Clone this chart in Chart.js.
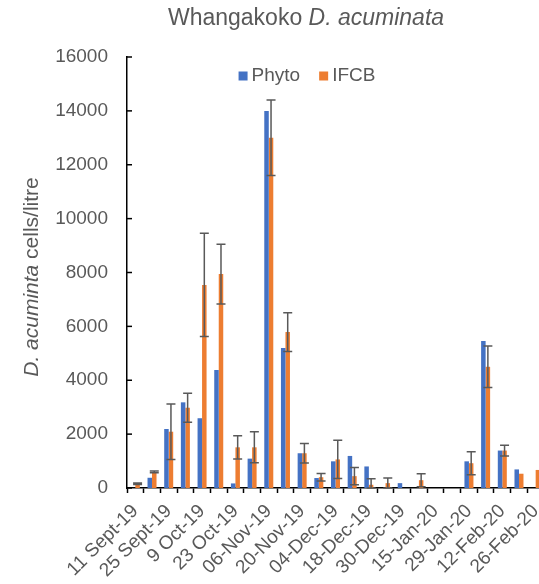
<!DOCTYPE html>
<html lang="en">
<head>
    <meta charset="UTF-8">
    <title>Whangakoko D. acuminata</title>
    <script src="https://cdn.jsdelivr.net/npm/chart.js"></script>
    <style>
        body {
            margin: 0;
            padding: 0;
            background: #ffffff;
            overflow: hidden;
        }
        canvas {
            display: block;
        }
    </style>
</head>
<body>
    <canvas id="chart" width="545" height="584"></canvas>

    <script>
        // Sampling dates (every other week is labelled in the original)
        const dates = [
            "11 Sept-19", "", "25 Sept-19", "", "9 Oct-19", "", "23 Oct-19", "",
            "06-Nov-19", "", "20-Nov-19", "", "04-Dec-19", "", "18-Dec-19", "",
            "30-Dec-19", "", "15-Jan-20", "", "29-Jan-20", "", "12-Feb-20", "", "26-Feb-20"
        ];

        // D. acuminata cells/litre
        const phyto = [0, 380, 2190, 3180, 2590, 4380, 170, 1090, 14000, 5200, 1290, 370, 990,
                       1190, 800, 0, 180, 0, 0, 0, 990, 5460, 1390, 690, 0];
        const ifcb = [160, 600, 2090, 2980, 7540, 7940, 1510, 1510, 13000, 5790, 1290, 400, 1060,
                      440, 120, 180, 0, 290, 0, 0, 920, 4500, 1390, 530, 670];
        // +/- error on the IFCB counts
        const ifcbErr = [30, 30, 1030, 540, 1920, 1110, 430, 575, 1400, 720, 360, 140, 710,
                         320, 220, 190, 0, 240, 0, 0, 430, 770, 200, 0, 0];

        const FONT = 'Arial, "Liberation Sans", sans-serif';
        const TEXT = '#595959';

        // title, axis title, legend, error bars and inner y ticks
        const extras = {
            id: 'extras',
            afterDatasetsDraw(chart) {
                const ctx = chart.ctx;
                const y = chart.scales.y;
                const area = chart.chartArea;

                // error bars on the IFCB bars
                const meta = chart.getDatasetMeta(1);
                ctx.save();
                ctx.strokeStyle = '#595959';
                ctx.lineWidth = 1.5;
                ifcbErr.forEach((e, i) => {
                    if (!e) return;
                    const x = meta.data[i].x;
                    const top = y.getPixelForValue(ifcb[i] + e);
                    const bot = y.getPixelForValue(Math.max(ifcb[i] - e, 0));
                    ctx.beginPath();
                    ctx.moveTo(x, top); ctx.lineTo(x, bot);
                    ctx.moveTo(x - 4.5, top); ctx.lineTo(x + 4.5, top);
                    ctx.moveTo(x - 4.5, bot); ctx.lineTo(x + 4.5, bot);
                    ctx.stroke();
                });

                // y tick marks point into the plot
                ctx.strokeStyle = '#000000';
                y.ticks.forEach(t => {
                    const py = y.getPixelForValue(t.value);
                    ctx.beginPath();
                    ctx.moveTo(area.left, py);
                    ctx.lineTo(area.left + 5, py);
                    ctx.stroke();
                });
                ctx.restore();
            },
            afterDraw(chart) {
                const ctx = chart.ctx;
                ctx.save();
                ctx.fillStyle = TEXT;
                ctx.textBaseline = 'middle';

                // chart title: plain + italic
                const t1 = 'Whangakoko ';
                const t2 = 'D. acuminata';
                ctx.font = '23px ' + FONT;
                const w1 = ctx.measureText(t1).width;
                ctx.font = 'italic 23px ' + FONT;
                const w2 = ctx.measureText(t2).width;
                let tx = 306 - (w1 + w2) / 2;
                ctx.textAlign = 'left';
                ctx.font = '23px ' + FONT;
                ctx.fillText(t1, tx, 19);
                ctx.font = 'italic 23px ' + FONT;
                ctx.fillText(t2, tx + w1, 19);

                // y axis title, rotated
                const a1 = 'D. acuminta';
                const a2 = ' cells/litre';
                ctx.font = 'italic 21px ' + FONT;
                const aw1 = ctx.measureText(a1).width;
                ctx.font = '21px ' + FONT;
                const aw2 = ctx.measureText(a2).width;
                ctx.translate(32, 277);
                ctx.rotate(-Math.PI / 2);
                const ax = -(aw1 + aw2) / 2;
                ctx.font = 'italic 21px ' + FONT;
                ctx.fillText(a1, ax, 0);
                ctx.font = '21px ' + FONT;
                ctx.fillText(a2, ax + aw1, 0);
                ctx.setTransform(1, 0, 0, 1, 0, 0);

                // legend inside the plot area
                ctx.font = '19px ' + FONT;
                const items = chart.data.datasets;
                const box = 9;
                const gap = 4;
                const spacing = 19;
                const widths = items.map(d => box + gap + ctx.measureText(d.label).width);
                const total = widths.reduce((s, w) => s + w, 0) + spacing * (items.length - 1);
                let lx = 307 - total / 2;
                const ly = 76;
                items.forEach((d, i) => {
                    ctx.fillStyle = d.backgroundColor;
                    ctx.fillRect(lx, ly - box / 2, box, box);
                    ctx.fillStyle = TEXT;
                    ctx.fillText(d.label, lx + box + gap, ly);
                    lx += widths[i] + spacing;
                });
                ctx.restore();
            }
        };

        const ctx = document.getElementById('chart').getContext('2d');
        new Chart(ctx, {
            type: 'bar',
            data: {
                labels: dates,
                datasets: [
                    { label: 'Phyto', data: phyto, backgroundColor: '#4472C4' },
                    { label: 'IFCB', data: ifcb, backgroundColor: '#ED7D31' }
                ]
            },
            options: {
                responsive: false,
                devicePixelRatio: 1,
                animation: false,
                categoryPercentage: 0.54,
                barPercentage: 1.0,
                layout: {
                    padding: { top: 57, left: 55, right: 1, bottom: 0 }
                },
                plugins: {
                    legend: { display: false },
                    title: { display: false },
                    tooltip: { enabled: false }
                },
                scales: {
                    x: {
                        grid: {
                            display: true,
                            drawOnChartArea: false,
                            tickLength: 5,
                            tickColor: '#000000',
                            tickWidth: 1.5
                        },
                        border: { color: '#000000', width: 1.5 },
                        ticks: {
                            autoSkip: false,
                            maxRotation: 45,
                            minRotation: 45,
                            color: TEXT,
                            padding: 7,
                            font: { family: FONT, size: 19 }
                        },
                        afterFit(scale) {
                            scale.height = 96;
                            scale.paddingLeft = 0;
                            scale.paddingRight = 0;
                        }
                    },
                    y: {
                        min: 0,
                        max: 16000,
                        grid: { display: false, drawTicks: false },
                        border: { color: '#000000', width: 1.5 },
                        ticks: {
                            stepSize: 2000,
                            color: TEXT,
                            padding: 19,
                            font: { family: FONT, size: 19 },
                            callback: v => String(v)
                        },
                        afterFit(scale) { scale.width = 72; }
                    }
                }
            },
            plugins: [extras]
        });
    </script>
</body>
</html>
